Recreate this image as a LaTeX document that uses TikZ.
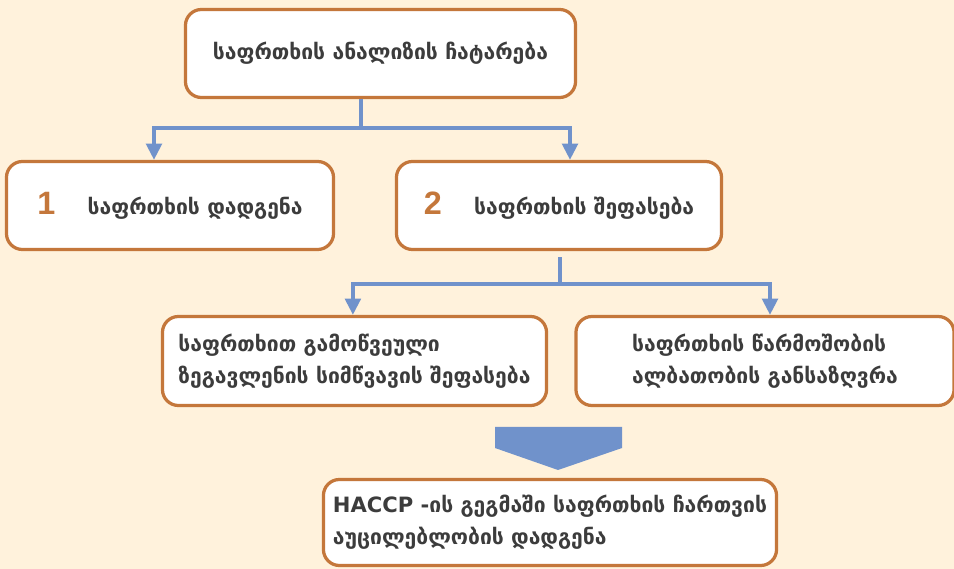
\documentclass[tikz,border=0pt]{standalone}
\usepackage{fontspec}
\setmainfont{DejaVu Sans}
\newfontfamily\numfont{Liberation Sans}
\usetikzlibrary{
  arrows.meta,
  positioning,
  calc
}
\definecolor{bgcream}{HTML}{FFF2DC}
\definecolor{boxorange}{HTML}{C4773B}
\definecolor{linkblue}{HTML}{7092CB}
\definecolor{textgray}{HTML}{3C3C3C}

\tikzset{
  box/.style = {draw=boxorange, line width=2.3pt, fill=white, rounded corners=0.4cm,
    text=textgray, font=\bfseries\fontsize{15}{22.8}\selectfont, align=left,
    inner sep=0pt},
  link/.style = {draw=linkblue, line width=2.6pt},
  arr/.style = {link, -{Triangle[width=11pt, length=11.5pt]}},
}
\newcommand{\stepnum}[1]{{\numfont\bfseries\fontsize{23}{23}\selectfont\color{boxorange}#1}\hspace{23pt}}

\begin{document}
\begin{tikzpicture}[x=0.025cm, y=-0.025cm]
    \fill[bgcream] (0,0) rectangle (954,569);
    \useasboundingbox (0,0) rectangle (954,569);

    \node[box, minimum width=9.75cm, minimum height=2.2cm] (analysis) at (380.5,53.5) {საფრთხის ანალიზის ჩატარება};
    \node[box, minimum width=8.175cm, minimum height=2.2cm] (identify) at (170,205.5) {\stepnum{1}საფრთხის დადგენა};
    \node[box, minimum width=8.125cm, minimum height=2.2cm] (assess) at (559,205.5) {\stepnum{2}საფრთხის შეფასება};
    \node[box, minimum width=9.6cm, minimum height=2.225cm] (severity) at (354.5,361) {საფრთხით გამოწვეული\\ზეგავლენის სიმწვავის შეფასება};
    \node[box, minimum width=9.45cm, minimum height=2.225cm] (likelihood) at (765,361) {საფრთხის წარმოშობის\\ალბათობის განსაზღვრა};
    \node[box, minimum width=11.325cm, minimum height=2.15cm] (haccp) at (550,522.5) {HACCP -ის გეგმაში საფრთხის ჩართვის\\აუცილებლობის დადგენა};

    % split points
    \coordinate (split1) at (361,128);
    \coordinate (split2) at (560,284);

    \draw[link] (analysis.south -| split1) -- (split1);
    \draw[arr] (split1) -| ([xshift=-0.4cm]identify.north);
    \draw[arr] (split1) -| ([xshift=0.275cm]assess.north);

    \draw[link, shorten <=0.15cm] (assess.south -| split2) -- (split2);
    \draw[arr] (split2) -| ([xshift=-0.04cm]severity.north);
    \draw[arr] (split2) -| ([xshift=0.125cm]likelihood.north);

    % big arrow down
    \fill[linkblue] (495,427) -- (622,427) -- (622,448) -- (558,470) -- (495,448) -- cycle;
\end{tikzpicture}
\end{document}
